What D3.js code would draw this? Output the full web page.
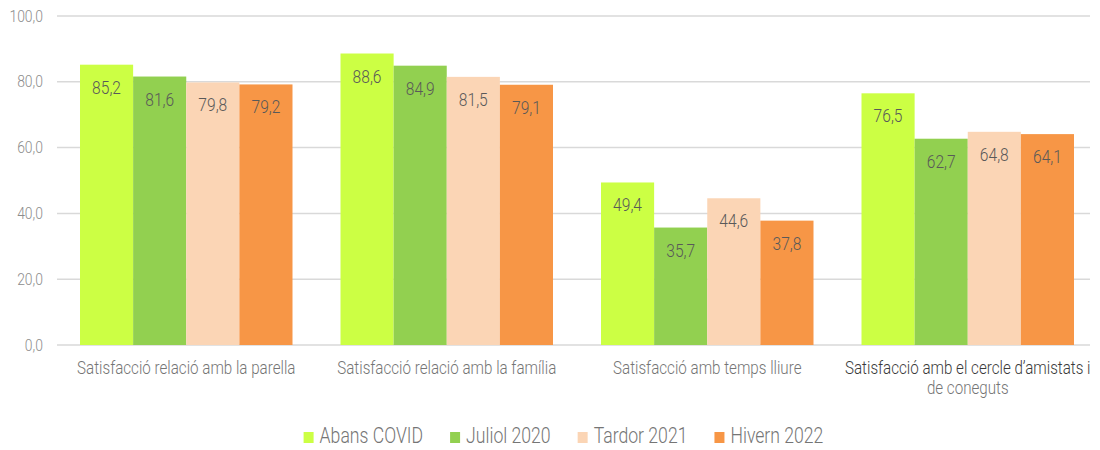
<!DOCTYPE html>
<html lang="ca">
<head>
  <meta charset="UTF-8">
  <title>Satisfacció</title>
  <script src="https://d3js.org/d3.v7.min.js"></script>
  <style>
    body { margin: 0; background: #fff; }
    text { font-family: "Roboto", "Liberation Sans", sans-serif; font-weight: 300; }
  </style>
</head>
<body>
  <svg id="chart" width="1100" height="450"></svg>

  <script>
    // data
    const categories = [
      ['Satisfacció relació amb la parella'],
      ['Satisfacció relació amb la família'],
      ['Satisfacció amb temps lliure'],
      ['Satisfacció amb el cercle d\u2019amistats i', 'de coneguts']
    ];
    const seriesNames = ['Abans COVID', 'Juliol 2020', 'Tardor 2021', 'Hivern 2022'];
    const abansCovid = [85.2, 88.6, 49.4, 76.5];
    const juliol2020 = [81.6, 84.9, 35.7, 62.7];
    const tardor2021 = [79.8, 81.5, 44.6, 64.8];
    const hivern2022 = [79.2, 79.1, 37.8, 64.1];
    const yTicks = [0, 20, 40, 60, 80, 100];

    const series = [abansCovid, juliol2020, tardor2021, hivern2022];
    const colors = ['#ccff44', '#92d050', '#fbd5b5', '#f79646'];

    const svg = d3.select('#chart');
    const plotLeft = 56, plotRight = 1098, gridRight = 1090, plotTop = 16, plotBottom = 345;
    const narrow = 0.82; // squeeze text horizontally, reference font is a narrow face

    const x = d3.scaleBand()
      .domain(d3.range(categories.length))
      .range([plotLeft, plotRight]);

    const x1 = d3.scaleBand()
      .domain(d3.range(series.length))
      .range([24, x.bandwidth() - 24]);

    const y = d3.scaleLinear().domain([0, 100]).range([plotBottom, plotTop]);

    const fmt = v => d3.format('.1f')(v).replace('.', ',');
    const place = (px, py) => `translate(${px},${py}) scale(${narrow},1)`;

    // gridlines
    svg.append('g')
      .selectAll('line')
      .data(yTicks)
      .enter().append('line')
      .attr('x1', 57).attr('x2', gridRight)
      .attr('y1', d => y(d)).attr('y2', d => y(d))
      .style('stroke', '#d9d9d9')
      .style('stroke-width', 1.5);

    // y labels
    svg.append('g')
      .selectAll('text')
      .data(yTicks)
      .enter().append('text')
      .attr('transform', d => place(43, y(d) + 5.5))
      .attr('text-anchor', 'end')
      .style('font-size', '17px')
      .style('fill', '#8c8c8c')
      .text(d => fmt(d));

    // bars
    const groups = svg.append('g')
      .selectAll('g')
      .data(categories.map((c, i) => i))
      .enter().append('g')
      .attr('transform', i => `translate(${x(i)},0)`);

    groups.selectAll('rect')
      .data(i => series.map((s, j) => ({ j, v: s[i] })))
      .enter().append('rect')
      .attr('x', d => x1(d.j))
      .attr('width', x1.bandwidth())
      .attr('y', d => y(d.v))
      .attr('height', d => plotBottom - y(d.v))
      .style('fill', d => colors[d.j]);

    groups.selectAll('text.val')
      .data(i => series.map((s, j) => ({ j, v: s[i] })))
      .enter().append('text')
      .attr('class', 'val')
      .attr('transform', d => place(x1(d.j) + x1.bandwidth() / 2, y(d.v) + 29))
      .attr('text-anchor', 'middle')
      .style('font-size', '19px')
      .style('fill', '#595959')
      .text(d => fmt(d.v));

    // category labels
    const catLabels = svg.append('g')
      .selectAll('text')
      .data(categories)
      .enter().append('text')
      .attr('transform', (d, i) => place(x(i) + x.bandwidth() / 2, 374))
      .attr('text-anchor', 'middle')
      .style('font-size', '18.5px')
      .style('fill', '#757575');

    catLabels.selectAll('tspan')
      .data(d => d)
      .enter().append('tspan')
      .attr('x', 0)
      .attr('dy', (d, k) => k === 0 ? 0 : 20)
      .style('fill', (d, k, nodes) => nodes.length > 1 && k === 0 ? '#3a3a3a' : null)
      .text(d => d);

    // legend
    const legend = svg.append('g');
    let lx = 0;
    const items = legend.selectAll('g')
      .data(seriesNames)
      .enter().append('g');
    items.append('rect')
      .attr('width', 10).attr('height', 11)
      .attr('y', -11)
      .style('fill', (d, i) => colors[i]);
    items.append('text')
      .attr('transform', place(16, 0))
      .style('font-size', '21.5px')
      .style('fill', '#757575')
      .text(d => d);
    items.each(function () {
      const g = d3.select(this);
      g.attr('transform', `translate(${lx},443)`);
      lx += 16 + g.select('text').node().getComputedTextLength() * narrow + 27;
    });
    const totalW = lx - 27;
    legend.attr('transform', `translate(${563.5 - totalW / 2},0)`);
  </script>
</body>
</html>
